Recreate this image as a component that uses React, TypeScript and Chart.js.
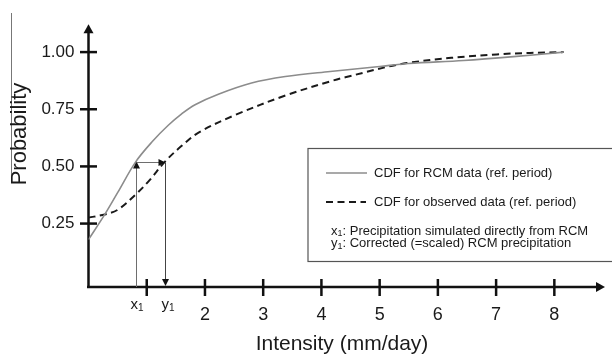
import React, { useEffect, useRef } from "react";
import { Chart, registerables } from "chart.js";

Chart.register(...registerables);

// ---- data ----
const rcmX = [0, 0.28, 0.5, 0.81, 1.1, 1.37, 1.6, 1.83, 2.23, 2.8, 3.38, 4.15, 5.0, 5.5, 6.44, 7.3, 8.16];
const rcmY = [0.18, 0.29, 0.385, 0.52, 0.61, 0.68, 0.73, 0.77, 0.816, 0.865, 0.893, 0.915, 0.937, 0.95, 0.963, 0.98, 1.0];
const obsX = [0, 0.28, 0.5, 0.81, 1.05, 1.31, 1.6, 1.89, 2.52, 3.38, 4.15, 4.41, 5.47, 7.01, 8.16];
const obsY = [0.276, 0.29, 0.31, 0.377, 0.44, 0.52, 0.59, 0.648, 0.725, 0.81, 0.872, 0.89, 0.952, 0.99, 1.0];
const xTicks = [1, 2, 3, 4, 5, 6, 7, 8];
const xTickLabels = ["", "2", "3", "4", "5", "6", "7", "8"];
const yTicks = [0.25, 0.5, 0.75, 1.0];
const yTickLabels = ["0.25", "0.50", "0.75", "1.00"];
const x1Value = 0.81;
const y1Value = 1.31;
const pValue = 0.52;
const seriesLabels = ["CDF for RCM data (ref. period)", "CDF for observed data (ref. period)"];
const noteX1 = ": Precipitation simulated directly from RCM";
const noteY1 = ": Corrected (=scaled) RCM precipitation";
const xTitle = "Intensity (mm/day)";
const yTitle = "Probability";

const FONT = '"Liberation Sans", Arial, Helvetica, sans-serif';

function arrowHead(ctx: CanvasRenderingContext2D, tx: number, ty: number, dir: string, len: number, half: number) {
  ctx.beginPath();
  ctx.moveTo(tx, ty);
  if (dir === "up") {
    ctx.lineTo(tx - half, ty + len);
    ctx.lineTo(tx + half, ty + len);
  } else if (dir === "down") {
    ctx.lineTo(tx - half, ty - len);
    ctx.lineTo(tx + half, ty - len);
  } else {
    ctx.lineTo(tx - len, ty - half);
    ctx.lineTo(tx - len, ty + half);
  }
  ctx.closePath();
  ctx.fill();
}

function subLabel(ctx: CanvasRenderingContext2D, letter: string, x: number, y: number, size: number, rest: string) {
  ctx.textAlign = "left";
  ctx.textBaseline = "alphabetic";
  ctx.font = `${size}px ${FONT}`;
  ctx.fillText(letter, x, y);
  let cx = x + ctx.measureText(letter).width;
  const sub = Math.round(size * 0.66);
  ctx.font = `${sub}px ${FONT}`;
  ctx.fillText("1", cx, y + size * 0.15);
  cx += ctx.measureText("1").width;
  if (rest) {
    ctx.font = `${size}px ${FONT}`;
    ctx.fillText(rest, cx, y);
  }
}

const axesPlugin = {
  id: "axesPlugin",
  beforeDatasetsDraw(chart: any) {
    const ctx: CanvasRenderingContext2D = chart.ctx;
    const xs = chart.scales.x;
    const ys = chart.scales.y;
    const ca = chart.chartArea;
    const ox = xs.getPixelForValue(0);
    const oy = ca.bottom;
    ctx.save();
    ctx.strokeStyle = "#111";
    ctx.fillStyle = "#111";
    ctx.lineWidth = 2.5;
    ctx.lineCap = "butt";
    // y axis
    ctx.beginPath();
    ctx.moveTo(ox, oy + 1);
    ctx.lineTo(ox, ca.top + 6);
    ctx.stroke();
    arrowHead(ctx, ox, ca.top, "up", 9, 5);
    // x axis
    ctx.beginPath();
    ctx.moveTo(ox - 1.5, oy);
    ctx.lineTo(ca.right - 6, oy);
    ctx.stroke();
    ctx.beginPath();
    ctx.moveTo(ca.right, oy);
    ctx.lineTo(ca.right - 9, oy - 5);
    ctx.lineTo(ca.right - 9, oy + 5);
    ctx.closePath();
    ctx.fill();
    // tick marks crossing the axes
    ctx.lineWidth = 2.5;
    yTicks.forEach((v) => {
      const py = ys.getPixelForValue(v);
      ctx.beginPath();
      ctx.moveTo(ox - 8.5, py);
      ctx.lineTo(ox + 8.5, py);
      ctx.stroke();
    });
    xTicks.forEach((v) => {
      const px = xs.getPixelForValue(v);
      ctx.beginPath();
      ctx.moveTo(px, oy - 8);
      ctx.lineTo(px, oy + 9);
      ctx.stroke();
    });
    // stray frame line at left edge
    ctx.strokeStyle = "#777";
    ctx.lineWidth = 1;
    ctx.beginPath();
    ctx.moveTo(11.5, 13);
    ctx.lineTo(11.5, 182);
    ctx.stroke();
    ctx.restore();
  },
  afterDraw(chart: any) {
    const ctx: CanvasRenderingContext2D = chart.ctx;
    const xs = chart.scales.x;
    const ys = chart.scales.y;
    const ca = chart.chartArea;
    const oy = ca.bottom;
    const ax = Math.round(xs.getPixelForValue(x1Value)) + 0.5;
    const bx = Math.round(xs.getPixelForValue(y1Value)) + 0.5;
    const py = Math.round(ys.getPixelForValue(pValue)) + 0.5;
    ctx.save();
    // x1 vertical arrow (up to RCM curve)
    ctx.lineWidth = 1;
    ctx.strokeStyle = "#6e6e6e";
    ctx.beginPath();
    ctx.moveTo(ax, oy);
    ctx.lineTo(ax, py + 4);
    ctx.stroke();
    ctx.fillStyle = "#111";
    arrowHead(ctx, ax, py - 1, "up", 7, 3.5);
    // horizontal arrow
    ctx.strokeStyle = "#6e6e6e";
    ctx.beginPath();
    ctx.moveTo(ax, py);
    ctx.lineTo(bx - 5, py);
    ctx.stroke();
    arrowHead(ctx, bx, py, "right", 7, 3.5);
    // y1 vertical arrow (down to axis)
    ctx.strokeStyle = "#444";
    ctx.beginPath();
    ctx.moveTo(bx, py);
    ctx.lineTo(bx, oy - 5);
    ctx.stroke();
    arrowHead(ctx, bx, oy - 1, "down", 7, 3.5);

    // x1 / y1 axis labels
    ctx.fillStyle = "#1a1a1a";
    subLabel(ctx, "x", ax - 6, 309, 15, "");
    subLabel(ctx, "y", bx - 4, 309, 15, "");

    // axis titles
    ctx.fillStyle = "#1a1a1a";
    ctx.font = `21px ${FONT}`;
    ctx.textAlign = "center";
    ctx.textBaseline = "alphabetic";
    ctx.fillText(xTitle, 342, 350);
    ctx.save();
    ctx.translate(26, 134);
    ctx.rotate(-Math.PI / 2);
    ctx.font = `22px ${FONT}`;
    ctx.fillText(yTitle, 0, 0);
    ctx.restore();

    // legend box
    ctx.fillStyle = "#fff";
    ctx.fillRect(308, 148.5, 310, 113);
    ctx.strokeStyle = "#555";
    ctx.lineWidth = 1.2;
    ctx.strokeRect(308, 148.5, 310, 113);
    // sample lines
    ctx.strokeStyle = "#8c8c8c";
    ctx.lineWidth = 1.6;
    ctx.beginPath();
    ctx.moveTo(326, 173);
    ctx.lineTo(367, 173);
    ctx.stroke();
    ctx.strokeStyle = "#1a1a1a";
    ctx.lineWidth = 2;
    ctx.setLineDash([7, 4.5]);
    ctx.beginPath();
    ctx.moveTo(326, 202);
    ctx.lineTo(366, 202);
    ctx.stroke();
    ctx.setLineDash([]);
    ctx.fillStyle = "#1a1a1a";
    ctx.font = `13px ${FONT}`;
    ctx.textAlign = "left";
    ctx.textBaseline = "middle";
    ctx.fillText(seriesLabels[0], 374, 173);
    ctx.fillText(seriesLabels[1], 374, 202);
    subLabel(ctx, "x", 331, 234.5, 13, noteX1);
    subLabel(ctx, "y", 331, 247, 13, noteY1);
    ctx.restore();
  },
};

export default function App() {
  const ref = useRef<HTMLCanvasElement | null>(null);
  useEffect(() => {
    if (!ref.current) return;
    const chart = new Chart(ref.current, {
      type: "line",
      data: {
        datasets: [
          {
            label: seriesLabels[0],
            data: rcmX.map((x, i) => ({ x, y: rcmY[i] })),
            borderColor: "#8c8c8c",
            borderWidth: 1.6,
            pointRadius: 0,
            fill: false,
            tension: 0.35,
          },
          {
            label: seriesLabels[1],
            data: obsX.map((x, i) => ({ x, y: obsY[i] })),
            borderColor: "#1a1a1a",
            borderWidth: 2,
            borderDash: [7, 4.5],
            pointRadius: 0,
            fill: false,
            tension: 0.35,
          },
        ],
      },
      options: {
        animation: false,
        responsive: false,
        devicePixelRatio: 1,
        layout: { padding: { left: 0, right: 7, top: 14, bottom: 0 } },
        plugins: { legend: { display: false }, tooltip: { enabled: false } },
        scales: {
          x: {
            type: "linear",
            min: 0,
            max: 8.87,
            grid: { display: false, drawTicks: false },
            border: { display: false },
            afterBuildTicks: (s: any) => {
              s.ticks = xTicks.map((v) => ({ value: v }));
            },
            afterFit: (s: any) => {
              s.height = 69;
            },
            ticks: {
              autoSkip: false,
              maxRotation: 0,
              padding: 17,
              color: "#1a1a1a",
              font: { family: FONT, size: 18 },
              callback: (v: any) => {
                const i = xTicks.indexOf(Number(v));
                return i >= 0 ? xTickLabels[i] : "";
              },
            },
          },
          y: {
            type: "linear",
            min: -0.0274,
            max: 1.122,
            grid: { display: false, drawTicks: false },
            border: { display: false },
            afterBuildTicks: (s: any) => {
              s.ticks = yTicks.map((v) => ({ value: v }));
            },
            afterFit: (s: any) => {
              s.width = 88.5;
            },
            ticks: {
              autoSkip: false,
              padding: 14,
              color: "#1a1a1a",
              font: { family: FONT, size: 17 },
              callback: (v: any) => {
                const i = yTicks.indexOf(Number(v));
                return i >= 0 ? yTickLabels[i] : "";
              },
            },
          },
        },
      } as any,
      plugins: [axesPlugin],
    });
    return () => chart.destroy();
  }, []);
  return (
    <div style={{ position: "fixed", left: 0, top: 0, width: 612, height: 356, background: "#fff" }}>
      <canvas ref={ref} width={612} height={356} style={{ display: "block" }} />
    </div>
  );
}
